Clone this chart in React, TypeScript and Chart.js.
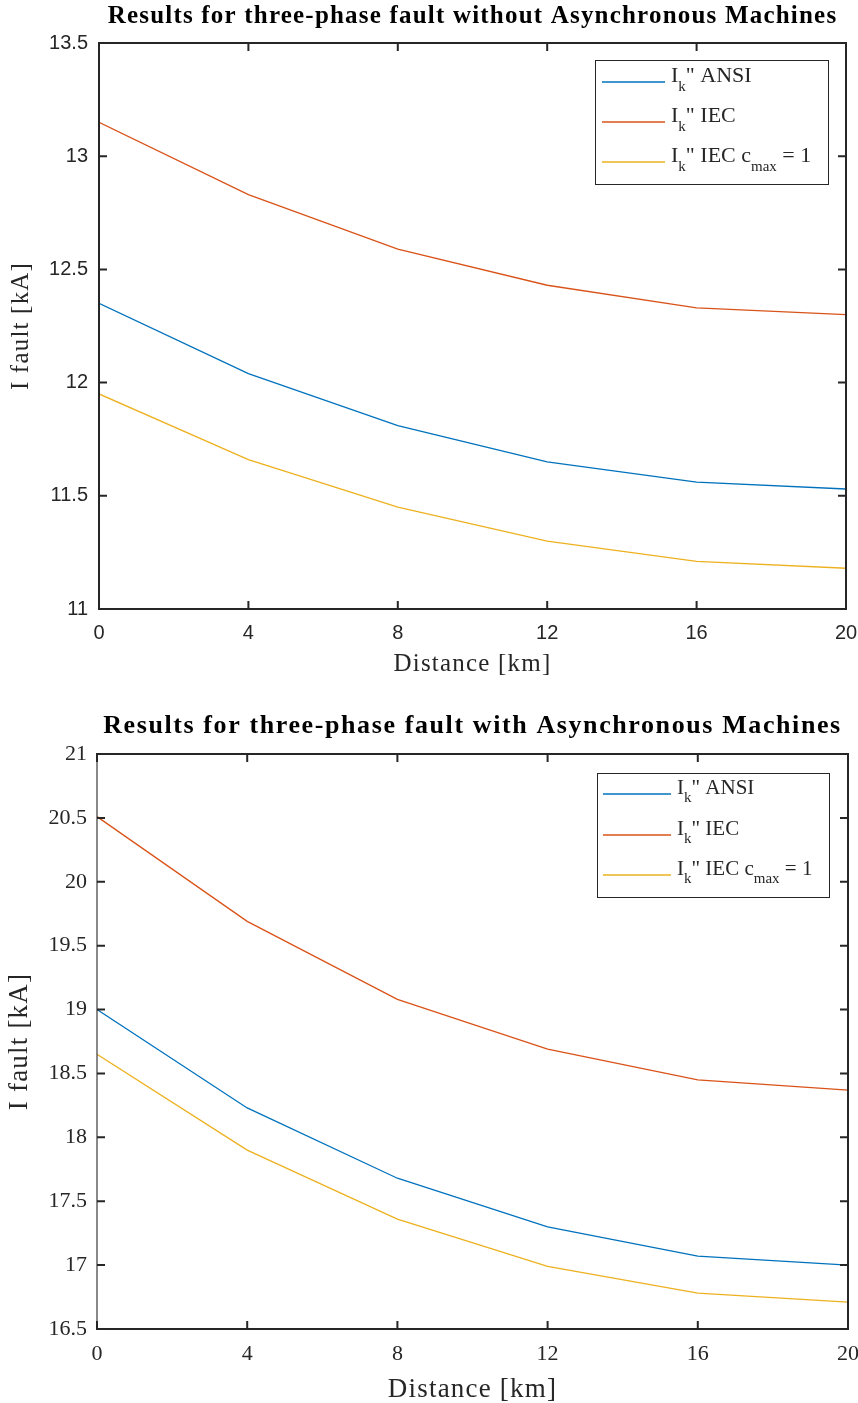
import React, { useEffect, useRef } from "react";
import { Chart, registerables } from "chart.js";

Chart.register(...registerables);

// ---------- data ----------
const distances = [0, 4, 8, 12, 16, 20];
const xTickValues = [0, 4, 8, 12, 16, 20];

const topAnsi = [12.35, 12.04, 11.81, 11.65, 11.56, 11.53];
const topIec = [13.15, 12.83, 12.59, 12.43, 12.33, 12.3];
const topIecC1 = [11.95, 11.66, 11.45, 11.3, 11.21, 11.18];
const topYTicks = [11, 11.5, 12, 12.5, 13, 13.5];

const botAnsi = [19.0, 18.23, 17.68, 17.3, 17.07, 17.0];
const botIec = [20.51, 19.69, 19.08, 18.69, 18.45, 18.37];
const botIecC1 = [18.65, 17.9, 17.36, 16.99, 16.78, 16.71];
const botYTicks = [16.5, 17, 17.5, 18, 18.5, 19, 19.5, 20, 20.5, 21];

const topTitle = "Results for three-phase fault without Asynchronous Machines";
const botTitle = "Results for three-phase fault with Asynchronous Machines";
const xAxisTitle = "Distance [km]";
const yAxisTitle = "I fault [kA]";

type Part = { t: string; sub?: boolean };
const legendAnsi: Part[] = [{ t: "I" }, { t: "k", sub: true }, { t: '" ANSI' }];
const legendIec: Part[] = [{ t: "I" }, { t: "k", sub: true }, { t: '" IEC' }];
const legendIecC1: Part[] = [
  { t: "I" },
  { t: "k", sub: true },
  { t: '" IEC c' },
  { t: "max", sub: true },
  { t: " = 1" },
];

const COLORS = ["#0072BD", "#D95319", "#EDB120"];
const AXIS = "#262626";
const SERIF = '"Liberation Serif", "Times New Roman", serif';
const SANS = '"Liberation Sans", Arial, sans-serif';

type Cfg = {
  top: number;
  H: number;
  area: { left: number; right: number; top: number; bottom: number };
  yMin: number;
  yMax: number;
  yTicks: number[];
  series: number[][];
  tickFont: string;
  tickSize: number;
  xTickPad: number;
  yTickPad: number;
  title: string;
  titleSize: number;
  titleSpacing: number;
  titleY: number;
  axisSize: number;
  axisSpacing: number;
  xTitleY: number;
  yTitleX: number;
  leftThin: boolean;
  legend: {
    x: number;
    y: number;
    w: number;
    h: number;
    lineX0: number;
    lineX1: number;
    textX: number;
    rows: number[];
    size: number;
    subSize: number;
    subDy: number;
  };
};

const W = 858;

const cfgTop: Cfg = {
  top: 0,
  H: 690,
  area: { left: 99, right: 846, top: 43, bottom: 609 },
  yMin: 11,
  yMax: 13.5,
  yTicks: topYTicks,
  series: [topAnsi, topIec, topIecC1],
  tickFont: SANS,
  tickSize: 20,
  xTickPad: 12,
  yTickPad: 11,
  title: topTitle,
  titleSize: 25,
  titleSpacing: 1.2,
  titleY: 23,
  axisSize: 25,
  axisSpacing: 1.2,
  xTitleY: 671,
  yTitleX: 28,
  leftThin: false,
  legend: {
    x: 595,
    y: 60,
    w: 233,
    h: 124,
    lineX0: 602,
    lineX1: 665,
    textX: 671,
    rows: [82, 122, 162],
    size: 22,
    subSize: 15,
    subDy: 9,
  },
};

const cfgBot: Cfg = {
  top: 690,
  H: 713,
  area: { left: 97, right: 848, top: 64, bottom: 639 },
  yMin: 16.5,
  yMax: 21,
  yTicks: botYTicks,
  series: [botAnsi, botIec, botIecC1],
  tickFont: SERIF,
  tickSize: 22,
  xTickPad: 12,
  yTickPad: 10,
  title: botTitle,
  titleSize: 26,
  titleSpacing: 1.6,
  titleY: 43,
  axisSize: 27,
  axisSpacing: 1.2,
  xTitleY: 707,
  yTitleX: 27,
  leftThin: true,
  legend: {
    x: 597,
    y: 83,
    w: 232,
    h: 124,
    lineX0: 603,
    lineX1: 671,
    textX: 677,
    rows: [104, 145, 185],
    size: 21,
    subSize: 15,
    subDy: 8,
  },
};

const legendParts = [legendAnsi, legendIec, legendIecC1];

function setSpacing(ctx: any, px: number) {
  if ("letterSpacing" in ctx) ctx.letterSpacing = px + "px";
}

function decorPlugin(c: Cfg) {
  return {
    id: "decor",
    afterDraw(chart: any) {
      const ctx: CanvasRenderingContext2D = chart.ctx;
      const a = chart.chartArea;
      const xs = chart.scales.x;
      const ys = chart.scales.y;
      ctx.save();

      // box
      ctx.strokeStyle = AXIS;
      ctx.lineCap = "square";
      ctx.lineWidth = 2;
      ctx.beginPath();
      ctx.moveTo(a.left, a.top);
      ctx.lineTo(a.right, a.top);
      ctx.lineTo(a.right, a.bottom);
      ctx.lineTo(a.left, a.bottom);
      if (!c.leftThin) ctx.lineTo(a.left, a.top);
      ctx.stroke();
      if (c.leftThin) {
        ctx.lineWidth = 1.2;
        ctx.strokeStyle = "#3a3a3a";
        ctx.beginPath();
        ctx.moveTo(a.left, a.top);
        ctx.lineTo(a.left, a.bottom);
        ctx.stroke();
      }

      // inward ticks
      const tl = 8;
      ctx.strokeStyle = AXIS;
      ctx.lineWidth = 2;
      ctx.lineCap = "butt";
      ctx.beginPath();
      xTickValues.forEach((v) => {
        const px = xs.getPixelForValue(v);
        ctx.moveTo(px, a.bottom);
        ctx.lineTo(px, a.bottom - tl);
        ctx.moveTo(px, a.top);
        ctx.lineTo(px, a.top + tl);
      });
      c.yTicks.forEach((v) => {
        const py = ys.getPixelForValue(v);
        ctx.moveTo(a.left, py);
        ctx.lineTo(a.left + tl, py);
        ctx.moveTo(a.right, py);
        ctx.lineTo(a.right - tl, py);
      });
      ctx.stroke();

      // title
      ctx.fillStyle = "#000";
      ctx.textAlign = "center";
      ctx.textBaseline = "alphabetic";
      ctx.font = `bold ${c.titleSize}px ${SERIF}`;
      setSpacing(ctx, c.titleSpacing);
      ctx.fillText(c.title, (a.left + a.right) / 2, c.titleY);

      // axis titles
      ctx.fillStyle = AXIS;
      ctx.font = `${c.axisSize}px ${SERIF}`;
      setSpacing(ctx, c.axisSpacing);
      ctx.fillText(xAxisTitle, (a.left + a.right) / 2, c.xTitleY);
      ctx.save();
      ctx.translate(c.yTitleX, (a.top + a.bottom) / 2);
      ctx.rotate(-Math.PI / 2);
      ctx.fillText(yAxisTitle, 0, 0);
      ctx.restore();
      setSpacing(ctx, 0);

      // legend
      const L = c.legend;
      ctx.fillStyle = "#fff";
      ctx.fillRect(L.x, L.y, L.w, L.h);
      ctx.strokeStyle = AXIS;
      ctx.lineWidth = 1;
      ctx.strokeRect(L.x + 0.5, L.y + 0.5, L.w, L.h);
      ctx.textAlign = "left";
      legendParts.forEach((parts, i) => {
        const y = L.rows[i];
        ctx.strokeStyle = COLORS[i];
        ctx.lineWidth = 1.3;
        ctx.beginPath();
        ctx.moveTo(L.lineX0, y);
        ctx.lineTo(L.lineX1, y);
        ctx.stroke();
        let x = L.textX;
        ctx.fillStyle = AXIS;
        parts.forEach((p) => {
          ctx.font = `${p.sub ? L.subSize : L.size}px ${SERIF}`;
          ctx.fillText(p.t, x, p.sub ? y + L.subDy : y);
          x += ctx.measureText(p.t).width;
        });
      });

      ctx.restore();
    },
  };
}

function Panel({ c }: { c: Cfg }) {
  const ref = useRef<HTMLCanvasElement | null>(null);
  useEffect(() => {
    if (!ref.current) return;
    const names = ['Ik" ANSI', 'Ik" IEC', 'Ik" IEC cmax = 1'];
    const chart = new Chart(ref.current, {
      type: "line",
      data: {
        datasets: c.series.map((s, i) => ({
          label: names[i],
          data: distances.map((d, j) => ({ x: d, y: s[j] })),
          borderColor: COLORS[i],
          borderWidth: 1.3,
          pointRadius: 0,
          tension: 0,
          fill: false,
        })),
      },
      options: {
        responsive: false,
        animation: false,
        devicePixelRatio: 1,
        layout: {
          padding: { left: 0, top: c.area.top, right: W - c.area.right, bottom: 0 },
        },
        plugins: {
          legend: { display: false },
          title: { display: false },
          tooltip: { enabled: false },
        },
        scales: {
          x: {
            type: "linear",
            min: 0,
            max: 20,
            afterBuildTicks: (s: any) => {
              s.ticks = xTickValues.map((v) => ({ value: v }));
            },
            afterFit: (s: any) => {
              s.height = c.H - c.area.bottom;
              s.paddingLeft = 0;
              s.paddingRight = 0;
            },
            grid: { display: true, drawOnChartArea: false, drawTicks: false },
            border: { display: false },
            ticks: {
              color: AXIS,
              font: { family: c.tickFont, size: c.tickSize },
              padding: c.xTickPad,
              maxRotation: 0,
              autoSkip: false,
              callback: (v: any) => String(v),
            },
          },
          y: {
            type: "linear",
            min: c.yMin,
            max: c.yMax,
            afterBuildTicks: (s: any) => {
              s.ticks = c.yTicks.map((v) => ({ value: v }));
            },
            afterFit: (s: any) => {
              s.width = c.area.left;
              s.paddingTop = 0;
              s.paddingBottom = 0;
            },
            grid: { display: true, drawOnChartArea: false, drawTicks: false },
            border: { display: false },
            ticks: {
              color: AXIS,
              font: { family: c.tickFont, size: c.tickSize },
              padding: c.yTickPad,
              autoSkip: false,
              callback: (v: any) => String(v),
            },
          },
        },
      },
      plugins: [decorPlugin(c)],
    } as any);
    return () => chart.destroy();
  }, [c]);
  return (
    <canvas
      ref={ref}
      width={W}
      height={c.H}
      style={{ position: "absolute", left: 0, top: c.top, width: W, height: c.H }}
    />
  );
}

export default function App() {
  return (
    <div style={{ position: "absolute", left: 0, top: 0, width: W, height: 1403, background: "#fff" }}>
      <Panel c={cfgTop} />
      <Panel c={cfgBot} />
    </div>
  );
}
